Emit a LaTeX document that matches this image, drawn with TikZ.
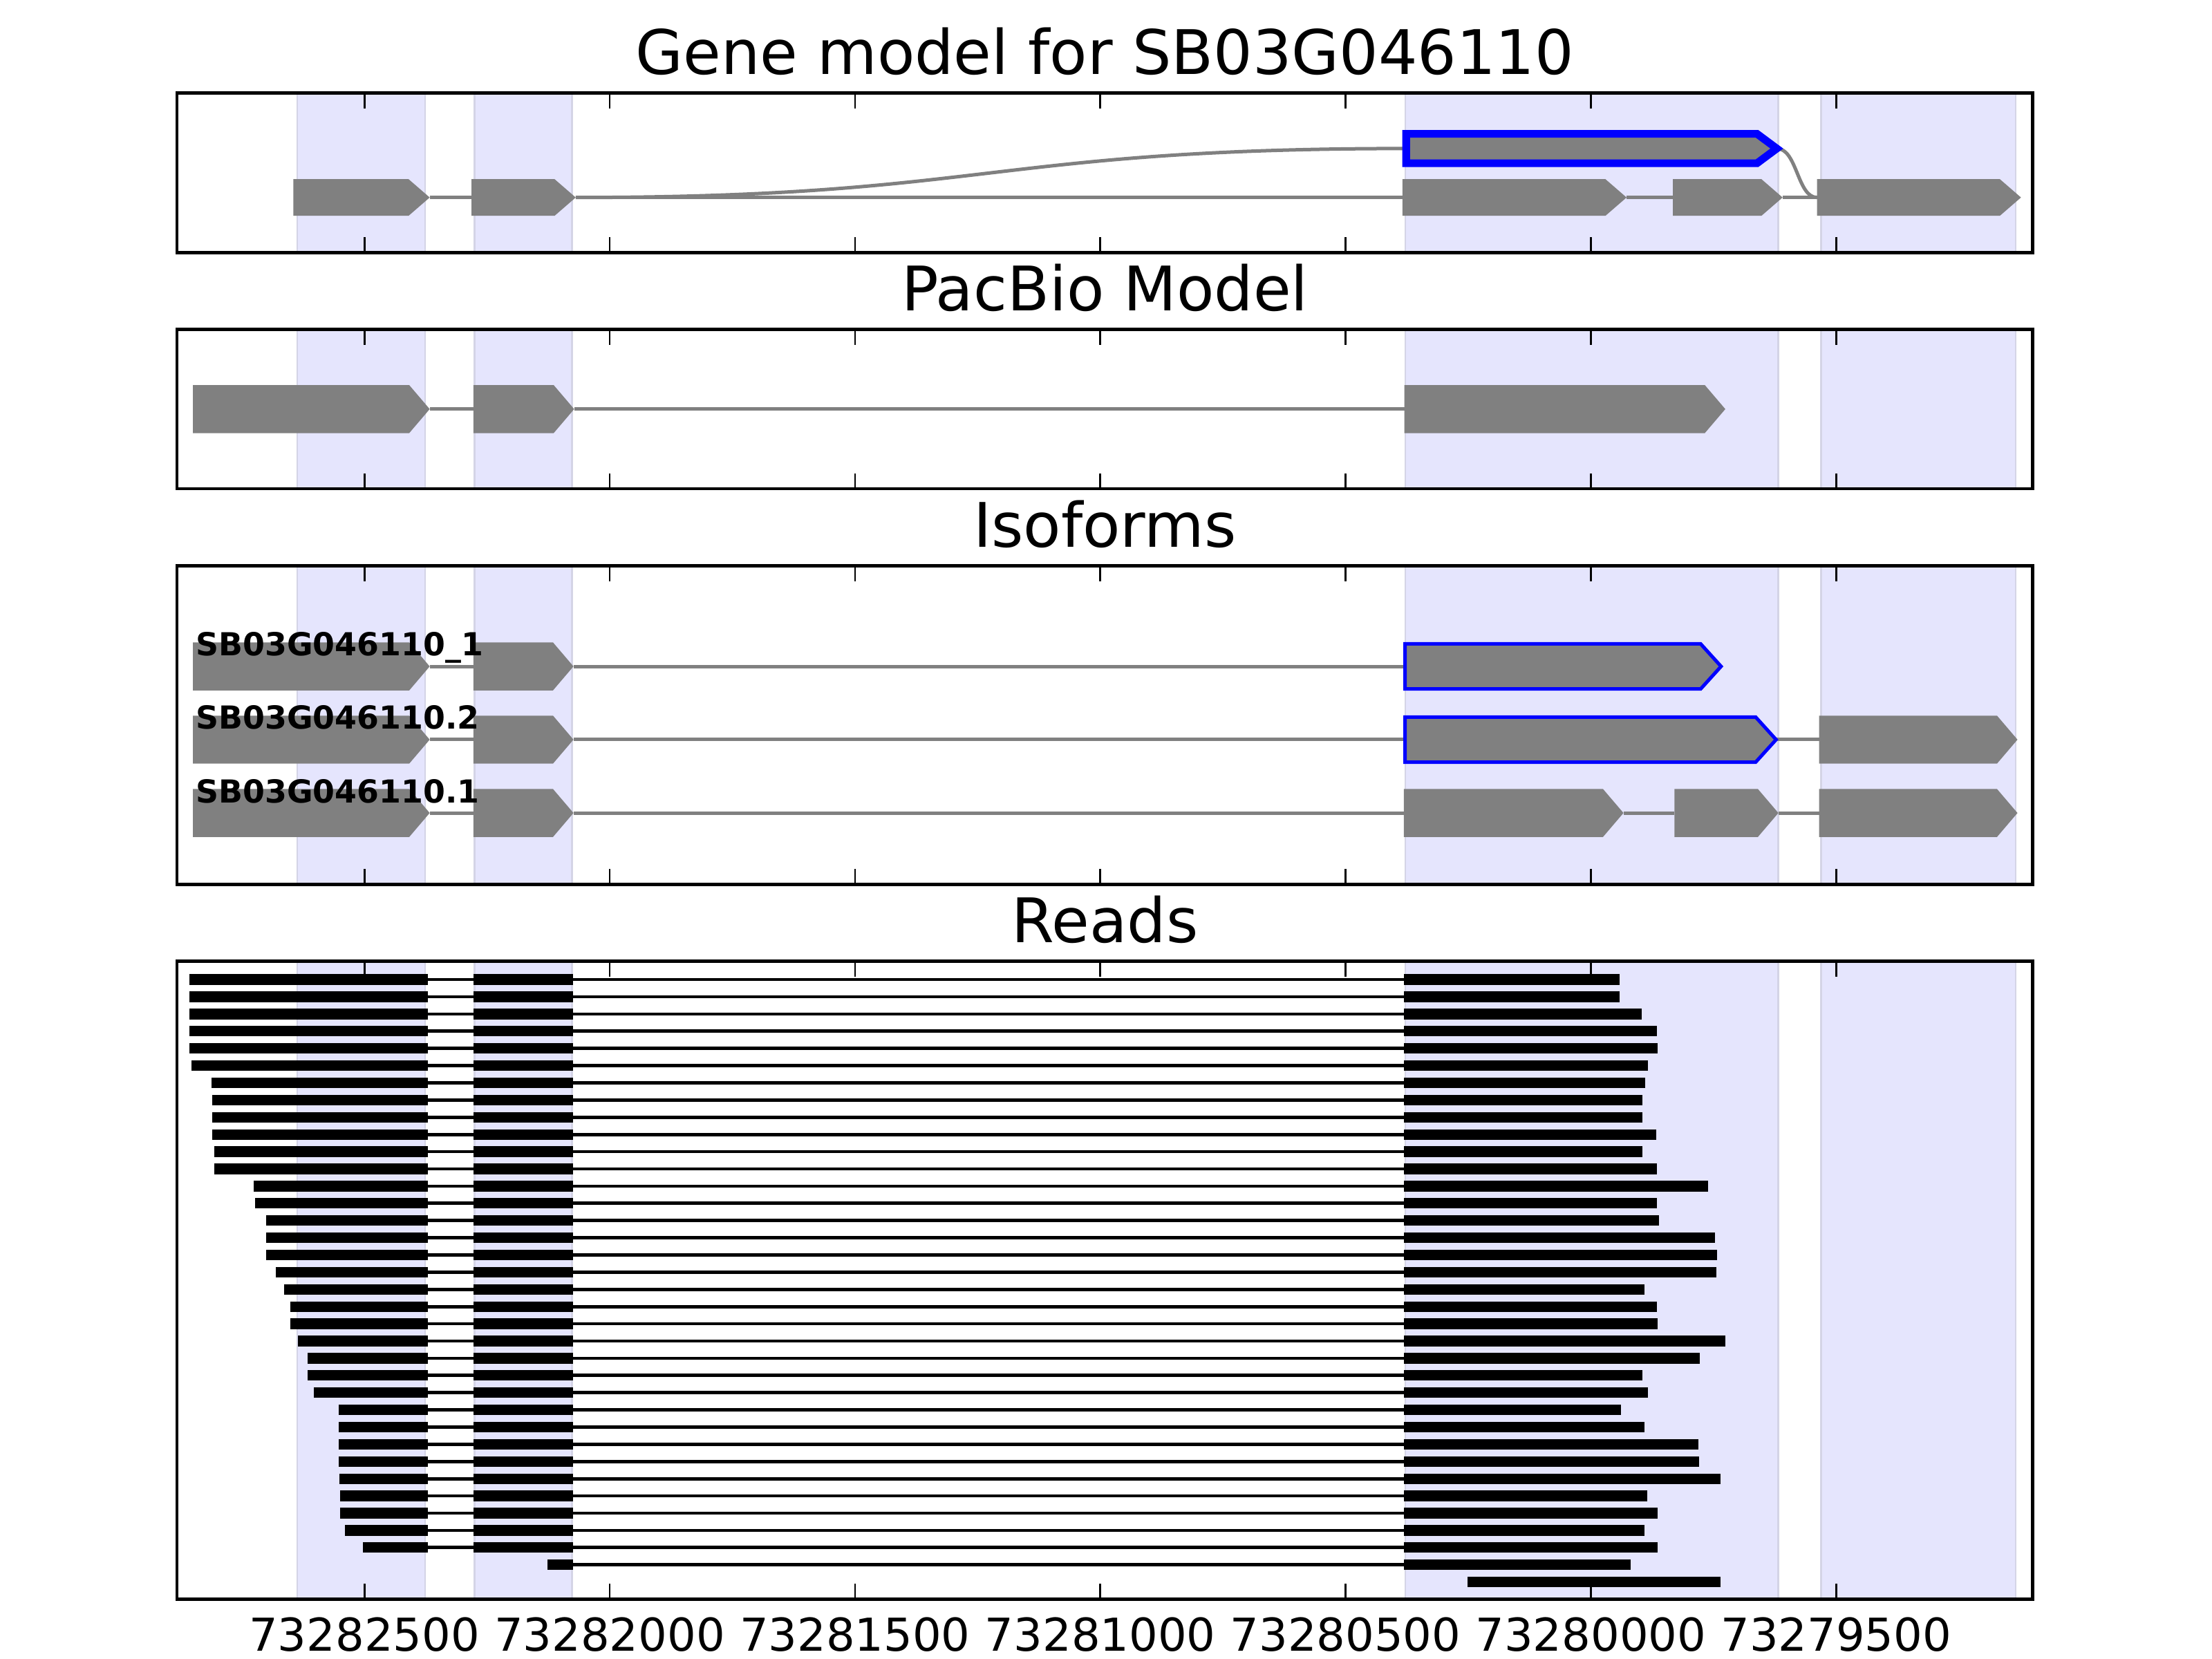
\documentclass[tikz,border=0pt]{standalone}
\usepackage{fontspec}
\setmainfont{DejaVu Sans}

\definecolor{bandfill}{RGB}{229,229,253}
\definecolor{bandedge}{RGB}{212,212,230}

% arrow shaped exon: [style]{x start}{x tip}{y centre}{half height}
\newcommand{\tiplen}{15}
\newcommand{\exonshape}[5][exon]{%
  \path[#1] (#2,#4-#5) -- (#3-\tiplen,#4-#5) -- (#3,#4) -- (#3-\tiplen,#4+#5) -- (#2,#4+#5) -- cycle;}

\tikzset{
  band/.style={fill=bandfill, draw=bandedge, line width=0.5pt},
  frame/.style={draw=black, line width=0.85pt},
  tickmark/.style={draw=black, line width=0.5pt},
  exon/.style={fill=gray},
  chosen/.style={fill=gray, draw=blue, line width=0.9pt, line join=miter},
  intron/.style={draw=gray, line width=0.9pt},
  readbar/.style={fill=black},
  readline/.style={draw=black, line width=0.85pt},
  paneltitle/.style={font=\fontsize{16}{19}\selectfont, anchor=base, inner sep=0pt},
  isolabel/.style={font=\bfseries\fontsize{8.25}{10}\selectfont, anchor=base west, inner sep=0pt},
  ticklabel/.style={font=\fontsize{11.8}{14}\selectfont, anchor=base, inner sep=0pt}
}

\begin{document}
\begin{tikzpicture}[x=0.3673pt, y=-0.3673pt]
  \useasboundingbox (0,0) rectangle (1568,1176);

  % shaded exon regions in every panel
  \foreach \top/\bot in {66/179, 233.5/346.5, 401/627, 681.5/1133.5} {
    \foreach \l/\r in {210.7/301.4, 336.3/405.3, 996.2/1260.5, 1290.8/1428.8}
      \path[band] (\l,\top) rectangle (\r,\bot);
  }

  % panel 1: gene model
  \node[paneltitle] (title-gene) at (783.2,52.6) {Gene model for SB03G046110};
  \draw[intron] (304.6,140) -- (334.2,140) (408.1,140) -- (994.1,140)
                (1153,140) -- (1185.8,140) (1263.6,140) -- (1288,140);
  \draw[intron] (408.1,140) .. controls (701,140) and (701,105.3) .. (996.8,105.3);
  \draw[intron] (1259.5,105.3) .. controls (1274,105.3) and (1274,140) .. (1288,140);
  \exonshape{208}{304.6}{140}{13}
  \exonshape{334.2}{408.1}{140}{13}
  \exonshape{994.1}{1153}{140}{13}
  \exonshape{1185.8}{1263.6}{140}{13}
  \exonshape{1288}{1432.6}{140}{13}
  \renewcommand{\tiplen}{14}
  \exonshape[chosen, line width=2pt]{996.8}{1259.5}{105.3}{10.4}

  % panel 2: pacbio model
  \node[paneltitle] (title-pacbio) at (783.2,220.2) {PacBio Model};
  \renewcommand{\tiplen}{14.5}
  \draw[intron] (304.6,290) -- (335.6,290) (407,290) -- (995.5,290);
  \exonshape{136.8}{304.6}{290}{17}
  \exonshape{335.6}{407}{290}{17}
  \exonshape{995.5}{1223}{290}{17}

  % panel 3: isoforms
  \node[paneltitle] (title-iso) at (783.2,387.6) {Isoforms};
  \foreach \y in {472.4, 524.3, 576.3} {
    \draw[intron] (304.6,\y) -- (335.6,\y) (406.5,\y) -- (996,\y);
    \exonshape{136.8}{304.6}{\y}{17}
    \exonshape{335.6}{406.5}{\y}{17}
  }
  \exonshape[chosen]{996}{1220}{472.4}{16}
  \draw[intron] (1259,524.3) -- (1289.5,524.3);
  \exonshape[chosen]{996}{1259}{524.3}{16}
  \exonshape{1289.5}{1430.1}{524.3}{17}
  \draw[intron] (1150.8,576.3) -- (1187,576.3) (1260.6,576.3) -- (1289.5,576.3);
  \exonshape{995.1}{1150.8}{576.3}{17}
  \exonshape{1187}{1260.6}{576.3}{17}
  \exonshape{1289.5}{1430.1}{576.3}{17}
  \node[isolabel] (iso-a) at (138.4,464.7) {SB03G046110\_1};
  \node[isolabel] (iso-b) at (138.4,516.9) {SB03G046110.2};
  \node[isolabel] (iso-c) at (138.4,569.2) {SB03G046110.1};

  % panel 4: reads
  \node[paneltitle] (title-reads) at (783.2,668) {Reads};
  \foreach \a/\b [count=\r] in {134.4/1148.0, 134.4/1148.0, 134.4/1163.8, 134.4/1174.7,
      134.4/1175.2, 135.5/1168.0, 149.8/1166.2, 150.2/1164.0, 150.2/1164.2, 150.2/1173.9,
      151.7/1164.2, 151.7/1174.5, 180.0/1211.0, 181.0/1174.7, 188.5/1176.0, 188.5/1215.6,
      188.5/1217.2, 195.7/1216.7, 201.2/1165.5, 206.0/1174.7, 206.0/1175.2, 211.4/1222.9,
      218.2/1204.7, 218.2/1164.0, 222.6/1168.0, 240.3/1149.0, 240.3/1165.5, 240.3/1204.0,
      240.3/1204.6, 240.8/1219.6, 241.2/1167.7, 241.2/1174.9, 244.7/1165.5, 257.4/1174.9} {
    \pgfmathsetmacro{\y}{694.4+12.2*(\r-1)}
    \draw[readline] (303.1,\y) -- (335.6,\y) (406.3,\y) -- (995.3,\y);
    \fill[readbar] (\a,\y-3.75) rectangle (303.1,\y+3.75);
    \fill[readbar] (335.6,\y-3.75) rectangle (406.3,\y+3.75);
    \fill[readbar] (995.3,\y-3.75) rectangle (\b,\y+3.75);
  }
  \draw[readline] (406.3,1109.2) -- (995.3,1109.2);
  \fill[readbar] (388.2,1105.45) rectangle (406.3,1112.95);
  \fill[readbar] (995.3,1105.45) rectangle (1156.1,1112.95);
  \fill[readbar] (1040.5,1117.65) rectangle (1219.6,1125.15);

  % frames and ticks
  \foreach \top/\bot in {66/179, 233.5/346.5, 401/627, 681.5/1133.5} {
    \foreach \x in {258.3, 432.2, 606.1, 780.0, 953.8, 1127.7, 1301.6}
      \draw[tickmark] (\x,\top) -- (\x,\top+11) (\x,\bot) -- (\x,\bot-11);
    \draw[frame] (125.4,\top) rectangle (1441,\bot);
  }
  \foreach \x/\lab [count=\i] in {258.3/73282500, 432.2/73282000, 606.1/73281500,
      780.0/73281000, 953.8/73280500, 1127.7/73280000, 1301.6/73279500}
    \node[ticklabel] (tick-\i) at (\x,1170.3) {\lab};
\end{tikzpicture}
\end{document}
